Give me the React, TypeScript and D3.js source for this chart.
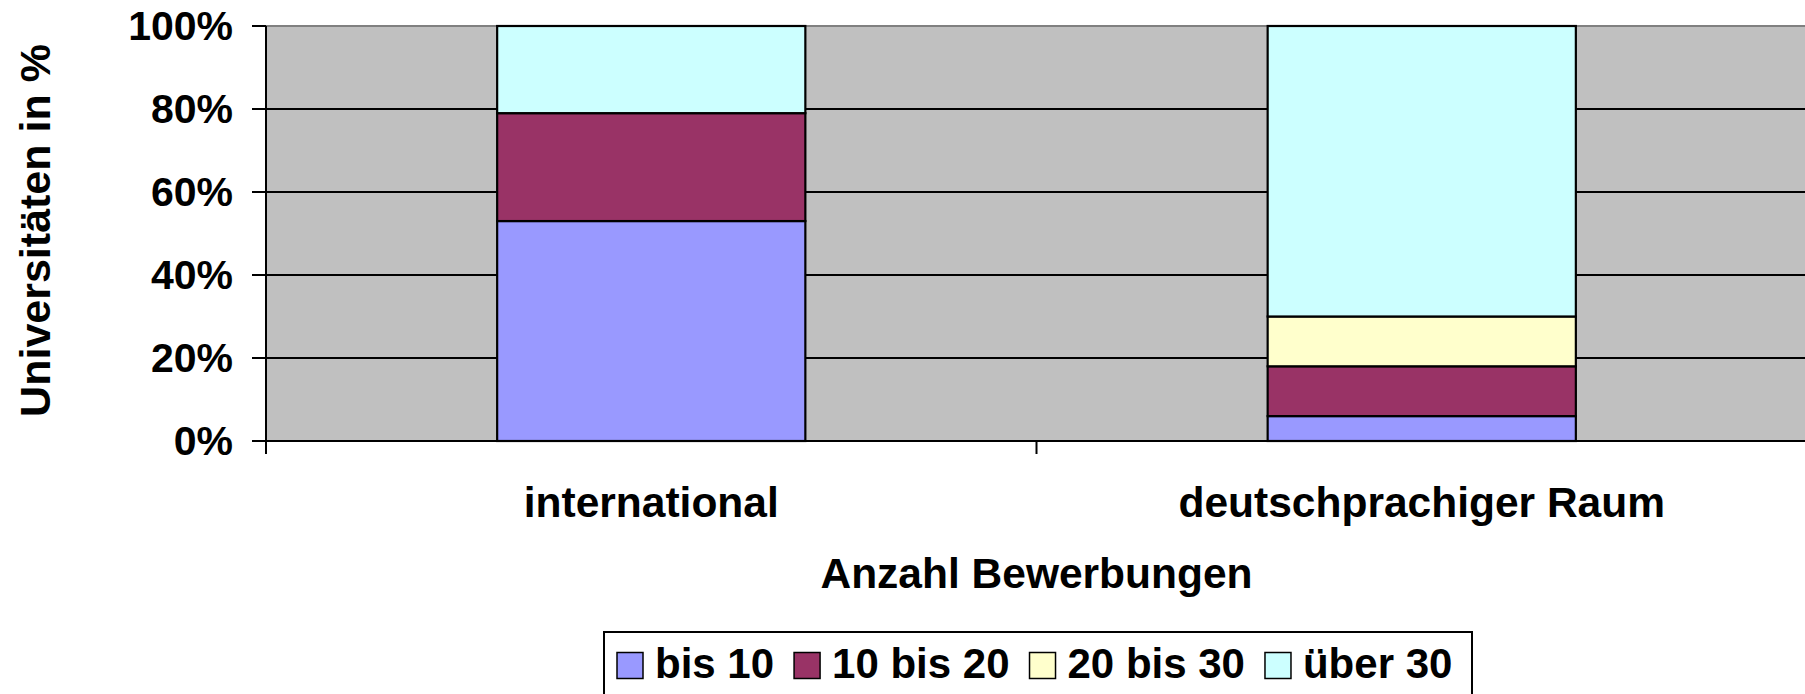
import React from "react";
import * as d3 from "d3";

const categories = ["international", "deutschprachiger Raum"];
const seriesNames = ["bis 10", "10 bis 20", "20 bis 30", "über 30"];
const bis10 = [53, 6];
const bis10bis20 = [26, 12];
const bis20bis30 = [0, 12];
const ueber30 = [21, 70];
const seriesColors = ["#9999FF", "#993366", "#FFFFCC", "#CCFFFF"];
const yTicks = [0, 20, 40, 60, 80, 100];

const W = 1805;
const H = 694;
const FONT = "'Liberation Sans', Arial, sans-serif";

function measure(text: string, size: number): number {
  const c = document.createElement("canvas");
  const ctx = c.getContext("2d")!;
  ctx.font = `bold ${size}px 'Liberation Sans', Arial, sans-serif`;
  return ctx.measureText(text).width;
}

export default function App() {
  const plotL = 266, plotR = 1807, plotT = 26, plotB = 441;
  const x = d3.scaleBand<string>().domain(categories).range([plotL, plotR]).paddingInner(0.6).paddingOuter(0.3);
  const y = d3.scaleLinear().domain([0, 100]).range([plotB, plotT]);

  const table = categories.map((c, i) => ({
    cat: c,
    s0: bis10[i],
    s1: bis10bis20[i],
    s2: bis20bis30[i],
    s3: ueber30[i],
  }));
  const stack = d3.stack<any>().keys(["s0", "s1", "s2", "s3"]);
  const layers = stack(table);

  const step = x.step();
  const boundaries = [plotL, plotL + step, plotL + 2 * step];

  // legend layout
  const legFont = 42;
  const legStart = 617;
  const sw = 26;
  let cx = legStart;
  const legItems = seriesNames.map((n, i) => {
    const item = { name: n, color: seriesColors[i], sx: cx, tx: cx + 38 };
    cx = cx + 38 + measure(n, legFont) + 20;
    return item;
  });

  return (
    <svg width={W} height={H} style={{ position: "fixed", left: 0, top: 0, background: "#fff" }} fontFamily={FONT} fontWeight="bold">
      <rect x={plotL} y={plotT} width={plotR - plotL} height={plotB - plotT} fill="#C0C0C0" />
      {yTicks.filter((t) => t > 0 && t < 100).map((t) => (
        <line key={t} x1={plotL} x2={plotR} y1={y(t)} y2={y(t)} stroke="#000" strokeWidth={2} />
      ))}
      <line x1={plotL} x2={plotR} y1={plotT} y2={plotT} stroke="#808080" strokeWidth={2} />
      {layers.map((layer, li) =>
        layer.map((d, i) =>
          d[1] - d[0] > 0 ? (
            <rect
              key={`${li}-${i}`}
              x={x(categories[i])!}
              y={y(d[1])}
              width={x.bandwidth()}
              height={y(d[0]) - y(d[1])}
              fill={seriesColors[li]}
              stroke="#000"
              strokeWidth={2.2}
            />
          ) : null
        )
      )}
      {/* axes */}
      <line x1={plotL} x2={plotL} y1={plotT} y2={plotB} stroke="#000" strokeWidth={2} />
      <line x1={plotL} x2={plotR} y1={plotB} y2={plotB} stroke="#000" strokeWidth={2} />
      {yTicks.map((t) => (
        <g key={t}>
          <line x1={plotL - 14} x2={plotL} y1={y(t)} y2={y(t)} stroke="#000" strokeWidth={2} />
          <text x={233} y={y(t) + 14} textAnchor="end" fontSize={41}>{`${t}%`}</text>
        </g>
      ))}
      {boundaries.map((b, i) => (
        <line key={i} x1={b} x2={b} y1={plotB} y2={plotB + 13} stroke="#000" strokeWidth={2} />
      ))}
      {categories.map((c) => (
        <text key={c} x={x(c)! + x.bandwidth() / 2} y={517} textAnchor="middle" fontSize={42.5}>{c}</text>
      ))}
      <text x={(plotL + plotR) / 2} y={588} textAnchor="middle" fontSize={42.5}>Anzahl Bewerbungen</text>
      <text transform={`translate(50, ${(plotT + plotB) / 2 - 3}) rotate(-90)`} textAnchor="middle" fontSize={43}>Universitäten in %</text>
      {/* legend */}
      <rect x={604} y={632} width={868} height={80} fill="#fff" stroke="#000" strokeWidth={2} />
      {legItems.map((it) => (
        <g key={it.name}>
          <rect x={it.sx} y={652.5} width={sw} height={sw} fill={it.color} stroke="#000" strokeWidth={1.5} />
          <text x={it.tx} y={678} fontSize={legFont}>{it.name}</text>
        </g>
      ))}
    </svg>
  );
}
